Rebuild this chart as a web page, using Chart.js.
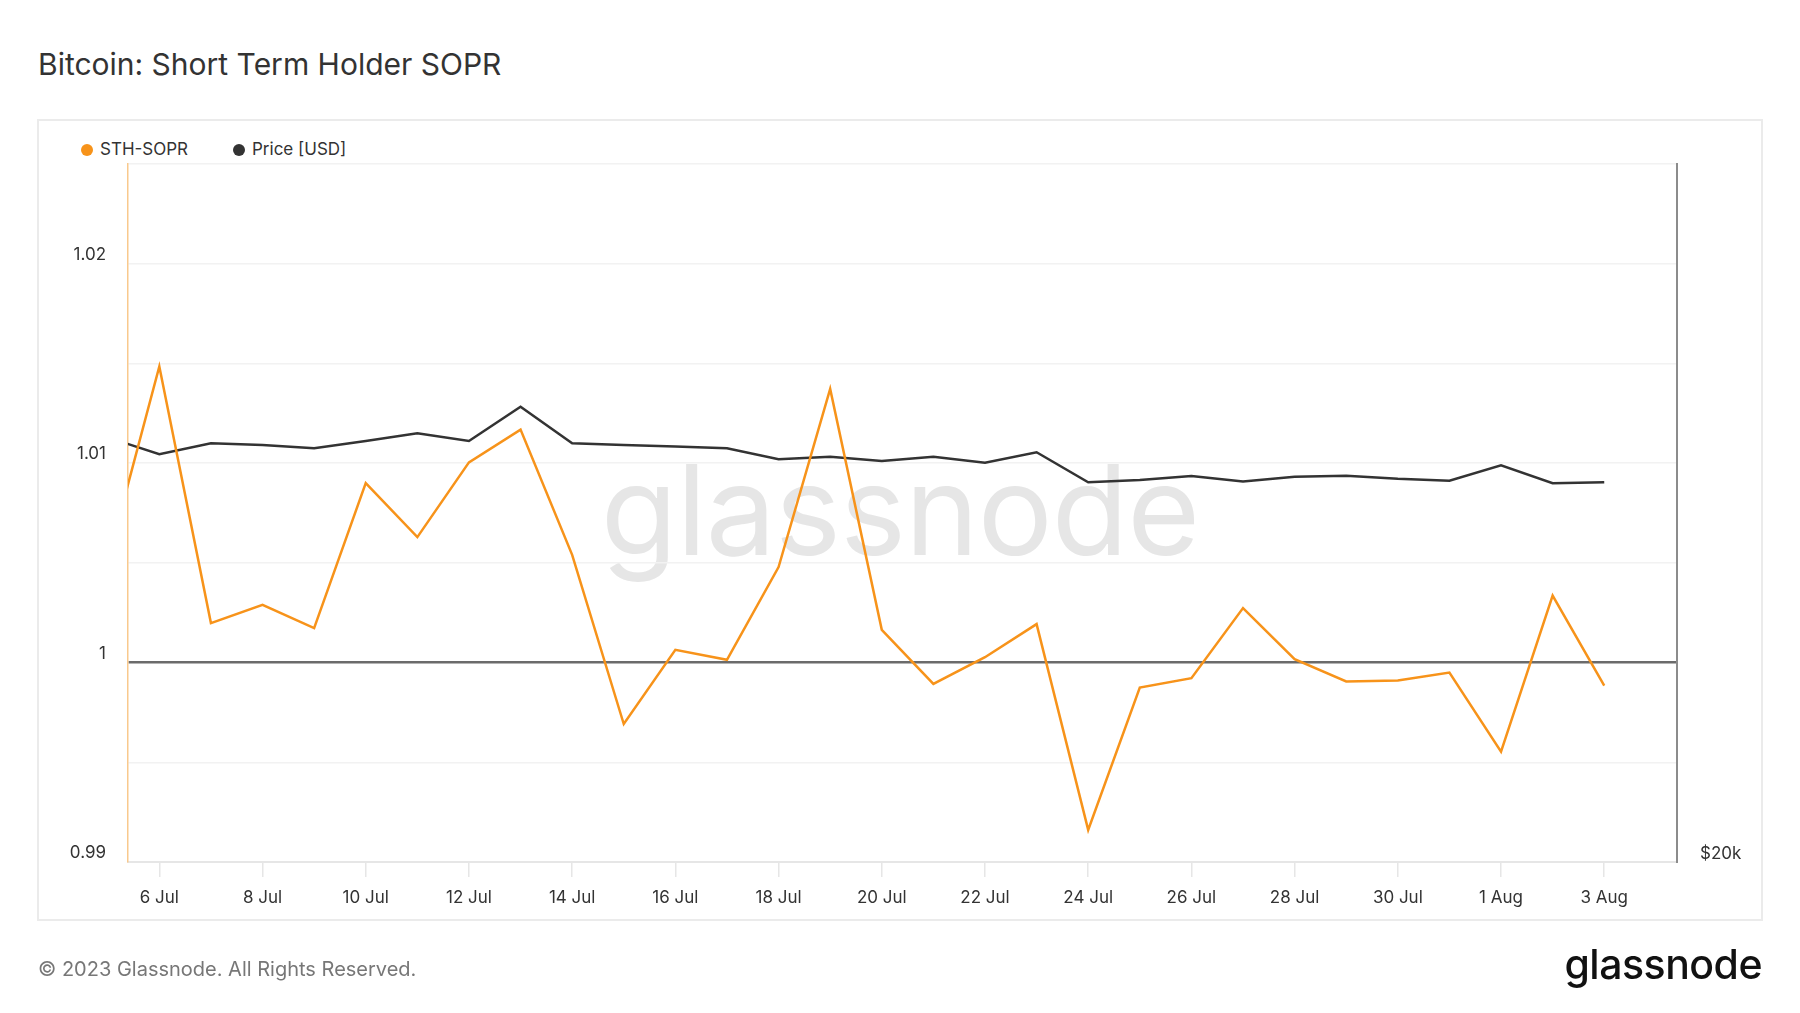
<!DOCTYPE html>
<html>
<head>
<meta charset="utf-8">
<script src="https://cdn.jsdelivr.net/npm/chart.js@4.4.0/dist/chart.umd.min.js"></script>
<style>
  html, body { margin: 0; padding: 0; background: #fff; }
  body { width: 1800px; height: 1013px; position: relative; overflow: hidden; font-family: Inter, 'Noto Sans', sans-serif; color: #333; }
  .title { position: absolute; left: 38px; top: 49px; font-size: 30px; line-height: 1; font-weight: 400; color: #333; white-space: nowrap; }
  .box { position: absolute; left: 37px; top: 119px; width: 1722px; height: 798px; border: 2px solid #ebebeb; }
  .legend { position: absolute; top: 141px; font-size: 17px; line-height: 1; color: #333; white-space: nowrap; }
  .legend .dot { position: absolute; width: 12px; height: 12px; border-radius: 50%; left: -19px; top: 3px; }
  .watermark { position: absolute; left: 0; width: 1800px; top: 447px; text-align: center; font-size: 125px; line-height: 1; color: #e6e6e6; letter-spacing: -1px; white-space: nowrap; }
  .footer { position: absolute; left: 38px; top: 959px; font-size: 20px; line-height: 1; color: #777; white-space: nowrap; }
  .logo { position: absolute; right: 38px; top: 944px; font-size: 41px; line-height: 1; font-weight: 500; color: #111; letter-spacing: -0.5px; white-space: nowrap; }
  #chart { position: absolute; left: 0; top: 0; }
</style>
</head>
<body>
<div class="title">Bitcoin: Short Term Holder SOPR</div>
<div class="box"></div>
<div class="watermark">glassnode</div>
<div class="legend" style="left:100px"><span class="dot" style="background:#f7931a"></span>STH-SOPR</div>
<div class="legend" style="left:252px"><span class="dot" style="background:#333"></span>Price [USD]</div>
<canvas id="chart" width="1800" height="1013"></canvas>
<div class="footer">© 2023 Glassnode. All Rights Reserved.</div>
<div class="logo">glassnode</div>
<script>
// daily points, 5 Jul .. 3 Aug 2023
const dates = ['5 Jul', '6 Jul', '7 Jul', '8 Jul', '9 Jul', '10 Jul', '11 Jul', '12 Jul', '13 Jul', '14 Jul',
  '15 Jul', '16 Jul', '17 Jul', '18 Jul', '19 Jul', '20 Jul', '21 Jul', '22 Jul', '23 Jul', '24 Jul',
  '25 Jul', '26 Jul', '27 Jul', '28 Jul', '29 Jul', '30 Jul', '31 Jul', '1 Aug', '2 Aug', '3 Aug'];

const sthSopr = [1.0051, 1.01485, 1.00198, 1.0029, 1.00173, 1.009, 1.00629, 1.01004, 1.01168, 1.0054,
  0.99692, 1.00064, 1.00014, 1.00479, 1.01372, 1.00164, 0.99893, 1.00027, 1.00193, 0.99161,
  0.99875, 0.99922, 1.00273, 1.00017, 0.99905, 0.9991, 0.9995, 0.99553, 1.00336, 0.99885];

const priceUsd = [30490, 29982, 30312, 30262, 30163, 30380, 30614, 30380, 31432, 30312,
  30262, 30213, 30163, 29834, 29912, 29784, 29912, 29734, 30043, 29160,
  29226, 29342, 29180, 29318, 29352, 29260, 29207, 29656, 29132, 29160];

// every other day gets a label on the x axis
const dateTicks = ['6 Jul', '8 Jul', '10 Jul', '12 Jul', '14 Jul', '16 Jul', '18 Jul', '20 Jul',
  '22 Jul', '24 Jul', '26 Jul', '28 Jul', '30 Jul', '1 Aug', '3 Aug'];

const soprGrid = [0.99, 0.995, 1, 1.005, 1.01, 1.015, 1.02, 1.025];
const soprLabels = ['0.99', '', '1', '', '1.01', '', '1.02', ''];
const priceLabels = { 20000: '$20k' };

const soprPoints = sthSopr.map((v, i) => ({ x: i, y: v }));
const pricePoints = priceUsd.map((v, i) => ({ x: i, y: v }));

const tickFont = { family: 'Inter', size: 17 };

const config = {
  type: 'line',
  data: {
    datasets: [
      {
        label: 'STH-SOPR',
        data: soprPoints,
        yAxisID: 'y',
        borderColor: '#f7931a',
        borderWidth: 2.5,
        pointRadius: 0,
        tension: 0
      },
      {
        label: 'Price [USD]',
        data: pricePoints,
        yAxisID: 'price',
        borderColor: '#333333',
        borderWidth: 2.5,
        pointRadius: 0,
        tension: 0
      }
    ]
  },
  options: {
    responsive: false,
    animation: false,
    devicePixelRatio: 1,
    layout: { padding: { top: 164, bottom: 91, left: 0, right: 0 } },
    plugins: {
      legend: { display: false },
      tooltip: { enabled: false }
    },
    scales: {
      x: {
        type: 'linear',
        min: 0.393,
        max: 30.41,
        afterBuildTicks: (scale) => {
          scale.ticks = dateTicks.map((d) => ({ value: dates.indexOf(d) }));
        },
        afterFit: (scale) => { scale.height = 60; },
        grid: { drawOnChartArea: false, drawTicks: true, tickLength: 15, color: '#e6e6e6', lineWidth: 1.5 },
        border: { color: '#e6e6e6', width: 2 },
        ticks: {
          callback: (v) => dates[v],
          color: '#333',
          font: tickFont,
          padding: 11,
          maxRotation: 0,
          autoSkip: false
        }
      },
      y: {
        position: 'left',
        min: 0.99,
        max: 1.025,
        afterBuildTicks: (scale) => {
          scale.ticks = soprGrid.map((v) => ({ value: v }));
        },
        afterFit: (scale) => { scale.width = 128; },
        grid: {
          drawTicks: false,
          color: (ctx) => (ctx.tick && ctx.tick.value === 1 ? '#6b6b6b' : '#f2f2f2'),
          lineWidth: (ctx) => (ctx.tick && ctx.tick.value === 1 ? 2.5 : 1.5)
        },
        border: { color: '#f9c98d', width: 1.5 },
        ticks: {
          callback: (v) => soprLabels[soprGrid.indexOf(v)],
          color: '#333',
          font: tickFont,
          padding: 22,
          labelOffset: -9,
          autoSkip: false
        }
      },
      price: {
        type: 'logarithmic',
        position: 'right',
        min: 20000,
        max: 40000,
        afterFit: (scale) => { scale.width = 123; },
        grid: { drawOnChartArea: false, drawTicks: false },
        border: { color: '#8c8c8c', width: 2 },
        ticks: {
          callback: (v) => priceLabels[v] || '',
          color: '#333',
          font: tickFont,
          padding: 23,
          labelOffset: -8,
          autoSkip: false
        }
      }
    }
  }
};

const chart = new Chart(document.getElementById('chart'), config); /* eslint-disable-line no-unused-vars */
</script>
</body>
</html>
